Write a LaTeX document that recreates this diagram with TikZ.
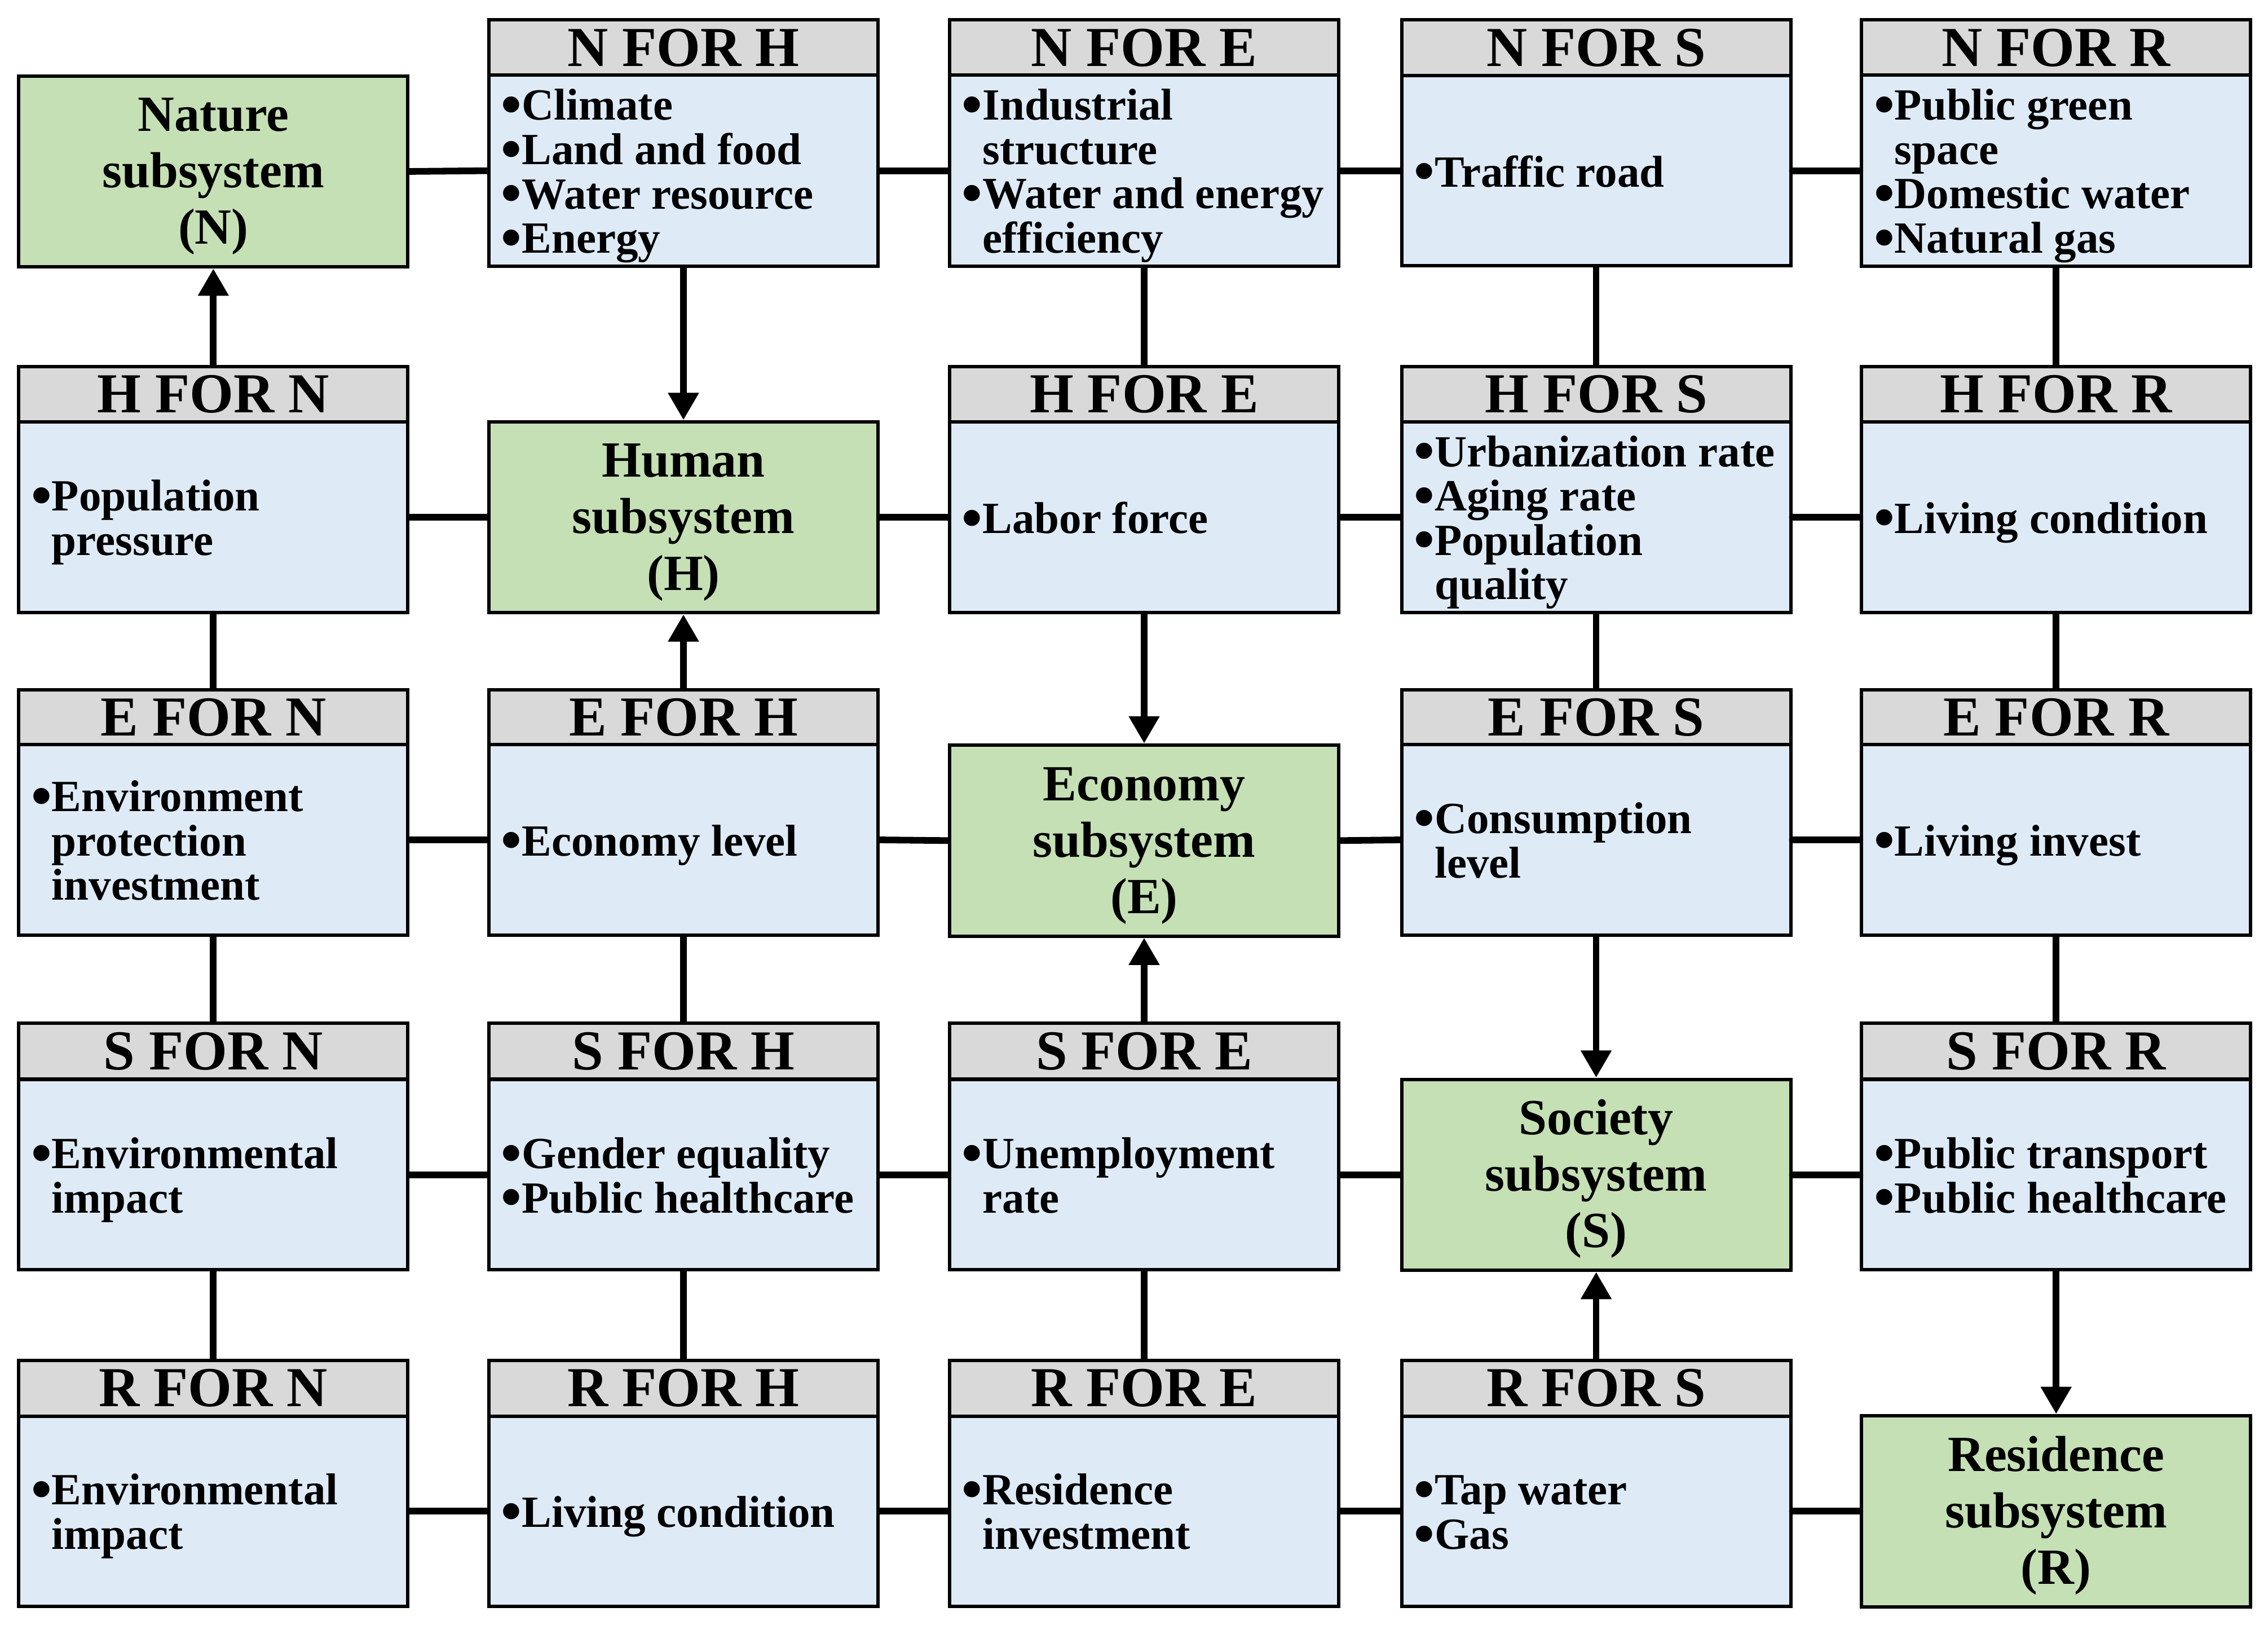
\documentclass[tikz,border=0pt]{standalone}
\usepackage{fontspec}
\usepackage{graphicx}
\setmainfont{Liberation Serif}
\usetikzlibrary{arrows.meta}
\definecolor{hdrgray}{HTML}{D9D9D9}
\definecolor{bodyblue}{HTML}{DEEBF7}
\definecolor{subgreen}{HTML}{C5E0B4}
\newcommand\hdrfont{\fontsize{19.5}{20}\selectfont\bfseries}
\newcommand\bodyfont{\fontsize{15.4}{15.3}\selectfont\bfseries}
\newcommand\subfont{\fontsize{17.5}{19.5}\selectfont\bfseries}
\newcommand\lst[1]{\makebox[126pt][l]{\raisebox{0pt}[\dimexpr\height+4.8pt\relax][\depth]{\begin{tabular}{@{}l@{}}#1\end{tabular}}}}
\newcommand\subtxt[1]{\raisebox{0pt}[\dimexpr\height+3.5pt\relax][\depth]{\begin{tabular}{@{}c@{}}#1\end{tabular}}}
\newcommand\bul{\raisebox{-1.5pt}{\scalebox{1.33}{\textbullet}}}
\newcommand\ind{\hphantom{\scalebox{1.33}{\textbullet}}}
\begin{document}
\begin{tikzpicture}[x=0.5pt,y=-0.5pt,
 hdr/.style={draw,line width=1.17pt,fill=hdrgray,minimum width=134.5pt,minimum height=19.25pt,inner sep=0pt,font=\hdrfont},
 bdy/.style={draw,line width=1.17pt,fill=bodyblue,minimum width=134.5pt,minimum height=65.75pt,inner sep=0pt,font=\bodyfont},
 sub/.style={draw,line width=1.17pt,fill=subgreen,minimum width=134.5pt,minimum height=66pt,inner sep=0pt,font=\subfont},
 link/.style={line width=2.3pt,line cap=round},
 arr/.style={line width=2.3pt,line cap=round,-{Triangle[length=9.4pt,width=10.1pt]}}]
\useasboundingbox (0,0) rectangle (1568,1123);
% row 1
\node[sub] (N) at (147.5,118.5) {\subtxt{Nature\\subsystem\\(N)}};
\node[hdr] (h12) at (472.5,33) {N FOR H};
\node[bdy] (b12) at (472.5,118) {\lst{\bul Climate\\\bul Land and food\\\bul Water resource\\\bul Energy}};
\node[hdr] (h13) at (791,33) {N FOR E};
\node[bdy] (b13) at (791,118) {\lst{\bul Industrial\\\ind structure\\\bul Water and energy\\\ind efficiency}};
\node[hdr] (h14) at (1103.5,33) {N FOR S};
\node[bdy] (b14) at (1103.5,118) {\lst{\bul Traffic road}};
\node[hdr] (h15) at (1421.5,33) {N FOR R};
\node[bdy] (b15) at (1421.5,118) {\lst{\bul Public green\\\ind space\\\bul Domestic water\\\bul Natural gas}};
% row 2
\node[hdr] (h21) at (147.5,272.5) {H FOR N};
\node[bdy] (b21) at (147.5,357.5) {\lst{\bul Population\\\ind pressure}};
\node[sub] (H) at (472.5,357.5) {\subtxt{Human\\subsystem\\(H)}};
\node[hdr] (h23) at (791,272.5) {H FOR E};
\node[bdy] (b23) at (791,357.5) {\lst{\bul Labor force}};
\node[hdr] (h24) at (1103.5,272.5) {H FOR S};
\node[bdy] (b24) at (1103.5,357.5) {\lst{\bul Urbanization rate\\\bul Aging rate\\\bul Population\\\ind quality}};
\node[hdr] (h25) at (1421.5,272.5) {H FOR R};
\node[bdy] (b25) at (1421.5,357.5) {\lst{\bul Living condition}};
% row 3
\node[hdr] (h31) at (147.5,496) {E FOR N};
\node[bdy] (b31) at (147.5,580.5) {\lst{\bul Environment\\\ind protection\\\ind investment}};
\node[hdr] (h32) at (472.5,496) {E FOR H};
\node[bdy] (b32) at (472.5,580.5) {\lst{\bul Economy level}};
\node[sub] (E) at (791,581) {\subtxt{Economy\\subsystem\\(E)}};
\node[hdr] (h34) at (1103.5,496) {E FOR S};
\node[bdy] (b34) at (1103.5,580.5) {\lst{\bul Consumption\\\ind level}};
\node[hdr] (h35) at (1421.5,496) {E FOR R};
\node[bdy] (b35) at (1421.5,580.5) {\lst{\bul Living invest}};
% row 4
\node[hdr] (h41) at (147.5,726.5) {S FOR N};
\node[bdy] (b41) at (147.5,812) {\lst{\bul Environmental\\\ind impact}};
\node[hdr] (h42) at (472.5,726.5) {S FOR H};
\node[bdy] (b42) at (472.5,812) {\lst{\bul Gender equality\\\bul Public healthcare}};
\node[hdr] (h43) at (791,726.5) {S FOR E};
\node[bdy] (b43) at (791,812) {\lst{\bul Unemployment\\\ind rate}};
\node[sub] (S) at (1103.5,812) {\subtxt{Society\\subsystem\\(S)}};
\node[hdr] (h45) at (1421.5,726.5) {S FOR R};
\node[bdy] (b45) at (1421.5,812) {\lst{\bul Public transport\\\bul Public healthcare}};
% row 5
\node[hdr] (h51) at (147.5,959.5) {R FOR N};
\node[bdy] (b51) at (147.5,1044.5) {\lst{\bul Environmental\\\ind impact}};
\node[hdr] (h52) at (472.5,959.5) {R FOR H};
\node[bdy] (b52) at (472.5,1044.5) {\lst{\bul Living condition}};
\node[hdr] (h53) at (791,959.5) {R FOR E};
\node[bdy] (b53) at (791,1044.5) {\lst{\bul Residence\\\ind investment}};
\node[hdr] (h54) at (1103.5,959.5) {R FOR S};
\node[bdy] (b54) at (1103.5,1044.5) {\lst{\bul Tap water\\\bul Gas}};
\node[sub] (R) at (1421.5,1044.5) {\subtxt{Residence\\subsystem\\(R)}};
% horizontal links
\draw[link] (N.east) -- (b12.west);
\draw[link] (b12.east) -- (b13.west);
\draw[link] (b13.east) -- (b14.west);
\draw[link] (b14.east) -- (b15.west);
\draw[link] (b21.east) -- (H.west);
\draw[link] (H.east) -- (b23.west);
\draw[link] (b23.east) -- (b24.west);
\draw[link] (b24.east) -- (b25.west);
\draw[link] (b31.east) -- (b32.west);
\draw[link] (b32.east) -- (E.west);
\draw[link] (E.east) -- (b34.west);
\draw[link] (b34.east) -- (b35.west);
\draw[link] (b41.east) -- (b42.west);
\draw[link] (b42.east) -- (b43.west);
\draw[link] (b43.east) -- (S.west);
\draw[link] (S.east) -- (b45.west);
\draw[link] (b51.east) -- (b52.west);
\draw[link] (b52.east) -- (b53.west);
\draw[link] (b53.east) -- (b54.west);
\draw[link] (b54.east) -- (R.west);
% vertical links
\draw[arr] (h21.north) -- (N.south);
\draw[link] (b21.south) -- (h31.north);
\draw[link] (b31.south) -- (h41.north);
\draw[link] (b41.south) -- (h51.north);
\draw[arr] (b12.south) -- (H.north);
\draw[arr] (h32.north) -- (H.south);
\draw[link] (b32.south) -- (h42.north);
\draw[link] (b42.south) -- (h52.north);
\draw[link] (b13.south) -- (h23.north);
\draw[arr] (b23.south) -- (E.north);
\draw[arr] (h43.north) -- (E.south);
\draw[link] (b43.south) -- (h53.north);
\draw[link] (b14.south) -- (h24.north);
\draw[link] (b24.south) -- (h34.north);
\draw[arr] (b34.south) -- (S.north);
\draw[arr] (h54.north) -- (S.south);
\draw[link] (b15.south) -- (h25.north);
\draw[link] (b25.south) -- (h35.north);
\draw[link] (b35.south) -- (h45.north);
\draw[arr] (b45.south) -- (R.north);
\end{tikzpicture}
\end{document}
